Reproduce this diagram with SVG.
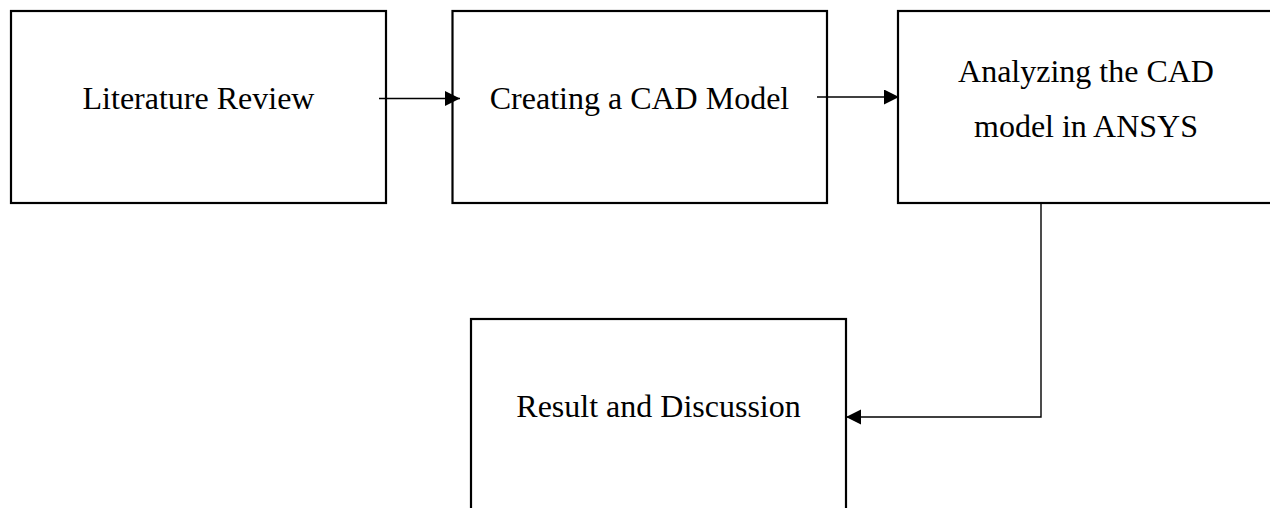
<svg xmlns="http://www.w3.org/2000/svg" width="1270" height="508" viewBox="0 0 1270 508">
<style>
.box{fill:#fff;stroke:#000;stroke-width:2.2}
.lbl{font-family:"Liberation Serif","Times New Roman",serif;font-size:32px;fill:#000;text-anchor:middle}
.conn{fill:none;stroke:#000;stroke-width:1.4}
</style>
<defs>
<marker id="ah" markerWidth="16" markerHeight="16" refX="15" refY="7.5" orient="auto" markerUnits="userSpaceOnUse">
<path d="M0,0 L15,7.5 L0,15 Z" fill="#000"/>
</marker>
</defs>
<g id="node-literature">
<rect class="box" x="11" y="11" width="375" height="192"/>
<text class="lbl" x="198.5" y="109">Literature Review</text>
</g>
<g id="node-cad">
<rect class="box" x="452.5" y="11" width="374.5" height="192"/>
<text class="lbl" x="639.5" y="109">Creating a CAD Model</text>
</g>
<g id="node-ansys">
<rect class="box" x="898" y="11" width="376" height="192"/>
<text class="lbl" x="1086" y="82">Analyzing the CAD</text>
<text class="lbl" x="1086" y="137">model in ANSYS</text>
</g>
<g id="node-result">
<rect class="box" x="471" y="319" width="375" height="200"/>
<text class="lbl" x="658.5" y="417">Result and Discussion</text>
</g>
<g id="connectors">
<line class="conn" x1="379" y1="98.5" x2="460" y2="98.5" marker-end="url(#ah)"/>
<line class="conn" x1="817" y1="97" x2="899" y2="97" marker-end="url(#ah)"/>
<polyline class="conn" points="1041,203 1041,417 846,417" marker-end="url(#ah)"/>
</g>
</svg>
